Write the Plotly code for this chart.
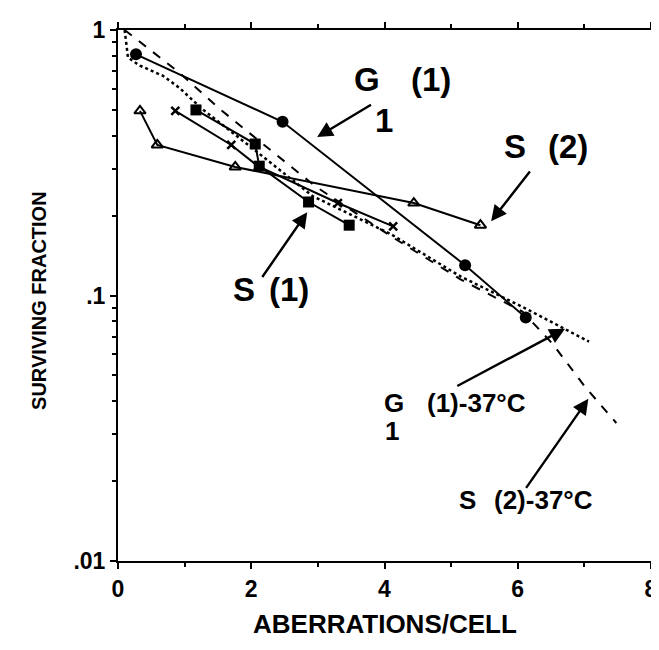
import plotly.graph_objects as go
import math

# ---- data ----
g1_x = [0.27, 2.47, 5.21, 6.12]
g1_y = [0.81, 0.451, 0.130, 0.0826]

s2_x = [0.33, 0.59, 1.76, 4.44, 5.44]
s2_y = [0.496, 0.369, 0.305, 0.223, 0.184]

cross_x = [0.86, 1.70, 2.10, 3.30, 4.13]
cross_y = [0.496, 0.369, 0.307, 0.223, 0.182]

s1_x = [1.17, 2.06, 2.12, 2.86, 3.47]
s1_y = [0.50, 0.372, 0.307, 0.225, 0.184]

s2_37_x = [0.10, 0.92, 1.56, 2.96, 4.10, 5.14, 6.07, 6.52, 7.01, 7.48]
s2_37_y = [1.0, 0.691, 0.496, 0.258, 0.167, 0.115, 0.087, 0.0659, 0.0453, 0.0331]

g1_37_x = [0.10, 0.15, 0.33, 0.67, 0.92, 1.26, 2.07, 2.92, 4.10, 5.14, 6.12, 6.71, 7.07]
g1_37_y = [1.0, 0.787, 0.734, 0.673, 0.606, 0.505, 0.35, 0.237, 0.170, 0.118, 0.0893, 0.0744, 0.067]

x_ticks = [0, 2, 4, 6, 8]
y_ticks = [0.01, 0.1, 1]
y_ticklabels = [".01", ".1", "1"]

FONT = "Liberation Sans, Arial, Helvetica, sans-serif"
BLACK = "black"

fig = go.Figure()

fig.add_trace(go.Scatter(x=s2_37_x, y=s2_37_y, mode="lines",
                         line=dict(color=BLACK, width=2, dash="dash"), hoverinfo="skip"))
fig.add_trace(go.Scatter(x=g1_37_x, y=g1_37_y, mode="lines",
                         line=dict(color=BLACK, width=2.5, dash="dot"), hoverinfo="skip"))
fig.add_trace(go.Scatter(x=g1_x, y=g1_y, mode="lines+markers",
                         line=dict(color=BLACK, width=2),
                         marker=dict(symbol="circle", size=12, color=BLACK)))
fig.add_trace(go.Scatter(x=s2_x, y=s2_y, mode="lines+markers",
                         line=dict(color=BLACK, width=2),
                         marker=dict(symbol="triangle-up-open", size=10, color=BLACK,
                                     line=dict(width=2, color=BLACK))))
fig.add_trace(go.Scatter(x=cross_x, y=cross_y, mode="lines+markers",
                         line=dict(color=BLACK, width=2),
                         marker=dict(symbol="x-thin-open", size=8, color=BLACK,
                                     line=dict(width=2.5, color=BLACK))))
fig.add_trace(go.Scatter(x=s1_x, y=s1_y, mode="lines+markers",
                         line=dict(color=BLACK, width=2),
                         marker=dict(symbol="square", size=11, color=BLACK)))

def label(text, x, ly, size):
    fig.add_annotation(x=x, y=ly, xref="x", yref="y", text="<b>%s</b>" % text,
                       showarrow=False, font=dict(family=FONT, size=size, color=BLACK),
                       xanchor="center", yanchor="middle")

def arrow(tx, tly, hx, hly):
    fig.add_annotation(x=hx, y=hly, ax=tx, ay=tly, xref="x", yref="y",
                       axref="x", ayref="y", text="", showarrow=True,
                       arrowhead=2, arrowsize=1.3, arrowwidth=2.4, arrowcolor=BLACK)

BIG = 33
SMALL = 26
# text labels
label("G", 3.74, -0.187, BIG)
label("(1)", 4.70, -0.187, BIG)
label("1", 3.99, -0.342, BIG)
label("S", 5.96, -0.437, BIG)
label("(2)", 6.76, -0.437, BIG)
label("S", 1.89, -0.977, BIG)
label("(1)", 2.56, -0.977, BIG)
label("G", 4.14, -1.405, SMALL)
label("(1)-37°C", 5.38, -1.405, SMALL)
label("1", 4.11, -1.51, SMALL)
label("S", 5.24, -1.771, SMALL)
label("(2)-37°C", 6.39, -1.771, SMALL)

# arrows
arrow(3.82, -0.278, 2.99, -0.403)
arrow(6.20, -0.527, 5.60, -0.720)
arrow(2.15, -0.936, 2.84, -0.686)
arrow(5.07, -1.344, 6.71, -1.125)
arrow(6.11, -1.730, 7.06, -1.389)

# axis titles
fig.add_annotation(x=0.5, y=-0.118, xref="paper", yref="paper",
                   text="<b>ABERRATIONS/CELL</b>", showarrow=False,
                   font=dict(family=FONT, size=26, color=BLACK),
                   xanchor="center", yanchor="middle")
fig.add_annotation(x=-0.148, y=0.49, xref="paper", yref="paper",
                   text="<b>SURVIVING FRACTION</b>", showarrow=False, textangle=-90,
                   font=dict(family=FONT, size=20, color=BLACK),
                   xanchor="center", yanchor="middle")

fig.update_layout(
    width=659, height=650,
    margin=dict(l=110, r=8, t=22, b=97),
    paper_bgcolor="white", plot_bgcolor="white",
    showlegend=False,
    font=dict(family=FONT, color=BLACK),
)
fig.update_xaxes(range=[0, 8], tickvals=x_ticks, ticktext=["<b>%d</b>" % v for v in x_ticks],
                 showgrid=False, zeroline=False, showline=True, linecolor=BLACK, linewidth=2,
                 mirror="ticks", ticks="outside", ticklen=6, tickwidth=2, tickcolor=BLACK,
                 tickfont=dict(family=FONT, size=23, color=BLACK),
                 minor=dict(tickvals=[1, 3, 5, 7], ticks="outside", ticklen=4,
                            tickwidth=1.5, tickcolor=BLACK, showgrid=False))
fig.update_yaxes(type="log", range=[-2, 0], tickvals=y_ticks,
                 ticktext=["<b>%s</b>" % t for t in y_ticklabels],
                 showgrid=False, zeroline=False, showline=True, linecolor=BLACK, linewidth=2,
                 mirror="ticks", ticks="outside", ticklen=6, tickwidth=2, tickcolor=BLACK,
                 tickfont=dict(family=FONT, size=23, color=BLACK),
                 minor=dict(dtick="D1", ticks="outside", ticklen=4,
                            tickwidth=1.5, tickcolor=BLACK, showgrid=False))

fig.write_html("out.html")
